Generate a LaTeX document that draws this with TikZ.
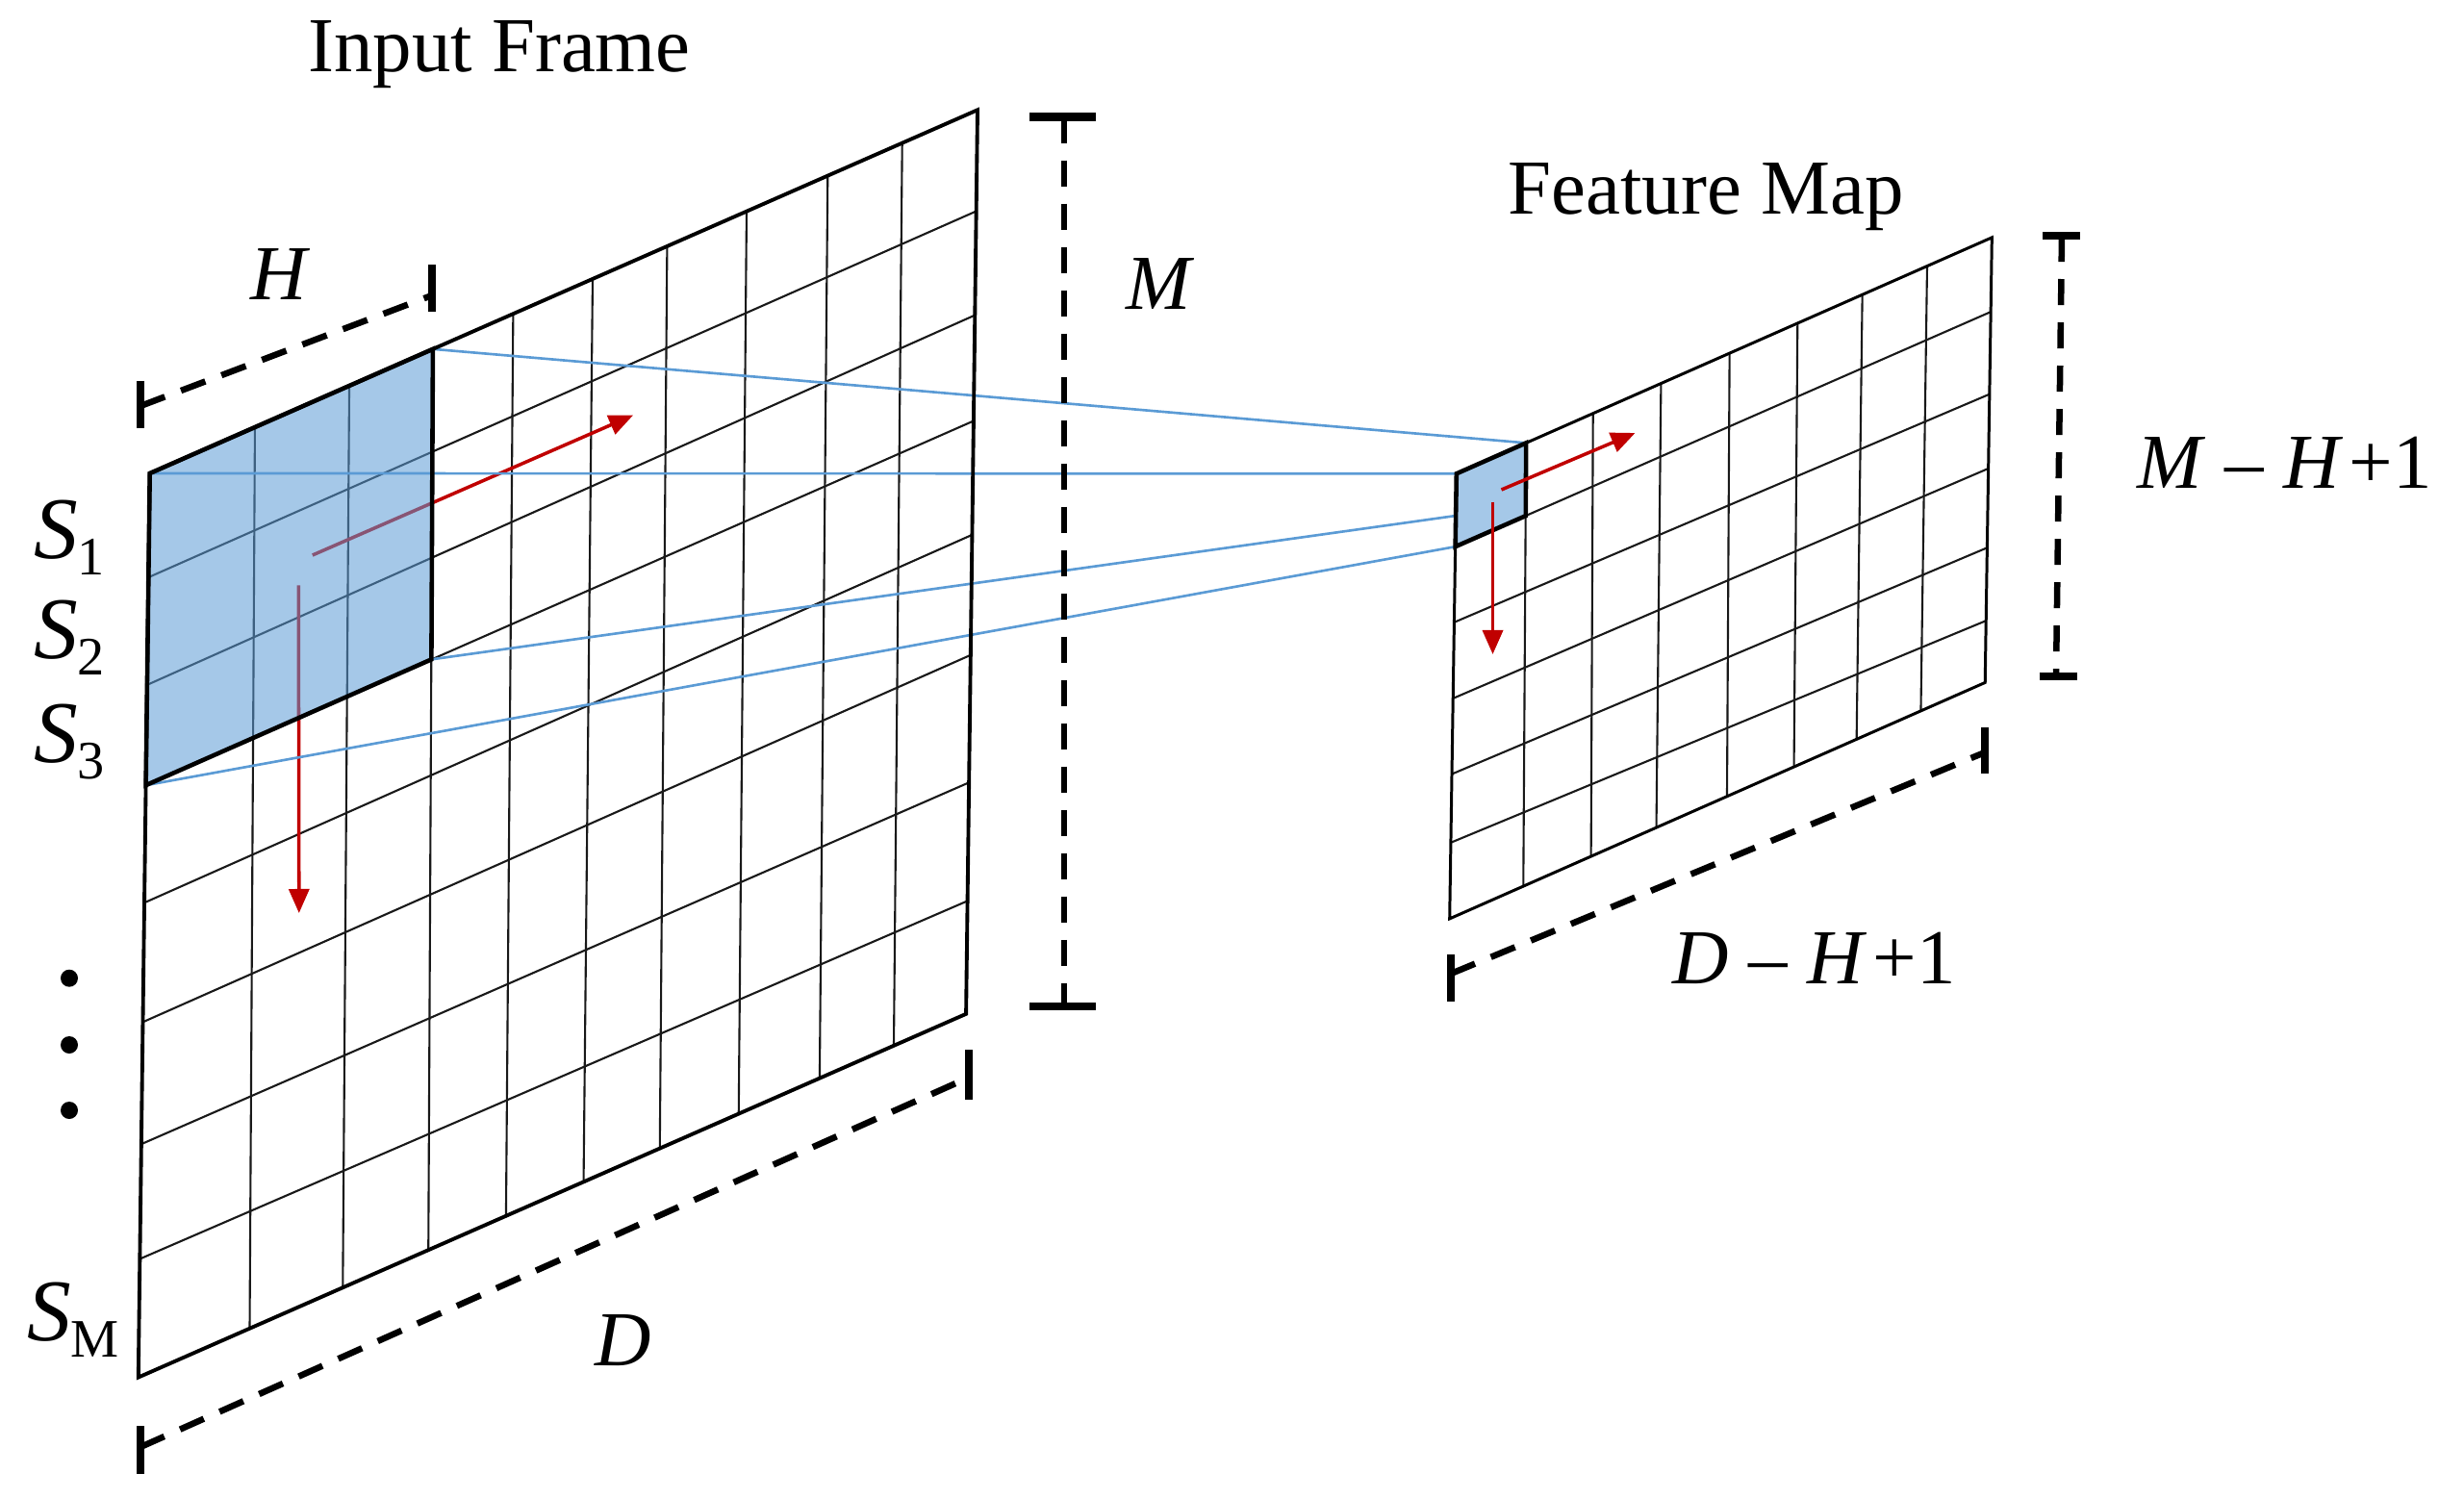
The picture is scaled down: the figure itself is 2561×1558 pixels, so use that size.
\documentclass[tikz,border=0pt]{standalone}
\usepackage{fontspec}
\setmainfont{Liberation Serif}
\usetikzlibrary{arrows.meta,calc}
\definecolor{winblue}{RGB}{91,155,213}
\definecolor{darkred}{RGB}{192,0,0}
\newcommand\Slab[1]{{\fontsize{26}{26}\selectfont\itshape S}\kern-0.03em\raisebox{-0.17cm}{\fontsize{16}{16}\selectfont #1}}
\begin{document}
\begin{tikzpicture}[x=0.01cm, y=-0.01cm,
  gridline/.style={line width=0.6pt, black!90},
  outeredge/.style={line width=1.1pt, black, line join=miter},
  fmedge/.style={line width=0.85pt, black, line join=miter},
  patchfill/.style={fill=winblue, fill opacity=0.55},
  patchedge/.style={line width=1.3pt, black, line join=miter},
  link/.style={line width=0.75pt, winblue},
  shiftarrow/.style={line width=1pt, darkred, -{Triangle[length=0.25cm,width=0.21cm]}},
  dimdash/.style={line width=1.85pt, dash pattern=on 7.7pt off 5.1pt},
  dimtick/.style={line width=2.3pt},
  lab/.style={inner sep=0pt, font=\fontsize{23}{27}\selectfont},
  mathlab/.style={inner sep=0pt, font=\fontsize{23}{27}\selectfont\itshape},
  dot/.style={circle, fill=black, inner sep=0pt, minimum size=0.18cm}]
\useasboundingbox (0,0) rectangle (2561,1558);

% ---------------- Input frame grid ----------------
\begin{scope}[shift={(155.7,492)}, x={(8.598cm,3.775cm)}, y={(-0.119cm,-9.39cm)}]
  \foreach \ct/\cb in {0.127/0.1345, 0.241/0.247, 0.342/0.3504, 0.439/0.4442, 0.535/0.5379, 0.625/0.630, 0.721/0.7253, 0.819/0.8231, 0.909/0.9127}
    \draw[gridline] (\ct,0) -- (\cb,1);
  \foreach \rl/\rr in {0.115/0.112, 0.234/0.227, 0.345/0.344, 0.475/0.470, 0.607/0.603, 0.742/0.744, 0.869/0.875}
    \draw[gridline] (0,\rl) -- (1,\rr);
  \coordinate (inTL) at (0,0);
  \coordinate (inTR) at (1,0);
  \coordinate (inBR) at (1,1);
  \coordinate (inBL) at (0,1);
  \coordinate (bTL) at (0,0);
  \coordinate (bTR) at (0.342,0);
  \coordinate (bBR) at (0.345,0.3445);
  \coordinate (bBL) at (0,0.345);
\end{scope}

% sliding arrows (input)
\coordinate (iaR0) at (324.8,577);
\coordinate (iaR1) at (658,431.6);
\coordinate (iaD0) at (310.3,608.3);
\coordinate (iaD1) at (310.8,949);
\draw[shiftarrow] (iaR0) -- (iaR1);
\draw[shiftarrow] (iaD0) -- (iaD1);

% input patch
\fill[patchfill] (bTL) -- (bTR) -- (bBR) -- (bBL) -- cycle;

% ---------------- Feature map grid ----------------
\begin{scope}[shift={(1513.8,492.3)}, x={(5.562cm,2.453cm)}, y={(-0.071cm,-4.623cm)}]
  \foreach \ct/\cb in {0.130/0.1376, 0.255/0.264, 0.382/0.386, 0.51/0.518, 0.637/0.643, 0.758/0.76, 0.879/0.88}
    \draw[gridline] (\ct,0) -- (\cb,1);
  \foreach \rl/\rr in {0.164/0.167, 0.334/0.352, 0.505/0.519, 0.675/0.697, 0.829/0.861}
    \draw[gridline] (0,\rl) -- (1,\rr);
  \coordinate (fmTL) at (0,0);
  \coordinate (fmTR) at (1,0);
  \coordinate (fmBR) at (1,1);
  \coordinate (fmBL) at (0,1);
  \coordinate (fTL) at (0,0);
  \coordinate (fTR) at (0.13,0);
  \coordinate (fBR) at (0.1315,0.1645);
  \coordinate (fBL) at (0,0.164);
  \coordinate (fMid) at (0,0.0945);
\end{scope}
\draw[fmedge] (fmTL) -- (fmTR) -- (fmBR) -- (fmBL) -- cycle;
\fill[patchfill] (fTL) -- (fTR) -- (fBR) -- (fBL) -- cycle;

% connectors
\draw[link] (bTR) -- (fTR);
\draw[link] (bTL) -- (fTL);
\draw[link] (bBR) -- (fMid);
\draw[link] (bBL) -- (fBL);

% edges on top
\draw[outeredge] (inTL) -- (inTR) -- (inBR) -- (inBL) -- cycle;
\draw[patchedge] (bBL) -- (bTL) -- (bTR) -- (bBR) -- cycle;
\draw[patchedge] (fTL) -- (fTR) -- (fBR) -- (fBL) -- cycle;

% sliding arrows (feature map)
\coordinate (faR0) at (1560.5,509);
\coordinate (faR1) at (1699.5,450);
\coordinate (faD0) at (1551.5,521.7);
\coordinate (faD1) at (1551.5,680);
\draw[shiftarrow] (faR0) -- (faR1);
\draw[shiftarrow] (faD0) -- (faD1);

% ---------------- dimension lines ----------------
% H
\coordinate (hA) at (146,422);
\coordinate (hB) at (449,307);
\draw[dimdash] (hA) -- (hB);
\draw[dimtick] (146,396) -- (146,445);
\draw[dimtick] (449,275.5) -- (449,324);
% D
\coordinate (dA) at (146,1504);
\coordinate (dB) at (1006.7,1120);
\draw[dimdash] (dA) -- (dB);
\draw[dimtick] (146,1482) -- (146,1532);
\draw[dimtick] (1006.7,1091) -- (1006.7,1143);
% M
\coordinate (mA) at (1105.8,121.5);
\coordinate (mB) at (1105.8,1045.6);
\draw[dimdash] (mA) -- (mB);
\draw[dimtick] (1070,121.5) -- (1139,121.5);
\draw[dimtick] (1070,1045.6) -- (1139,1045.6);
% M-H+1
\coordinate (mhA) at (2143,245);
\coordinate (mhB) at (2137,702.6);
\draw[dimdash] (mhA) -- (mhB);
\draw[dimtick] (2123,245) -- (2162,245);
\draw[dimtick] (2119.5,702.6) -- (2158.5,702.6);
% D-H+1
\coordinate (dhA) at (1508,1012);
\coordinate (dhB) at (2063,782);
\draw[dimdash] (dhA) -- (dhB);
\draw[dimtick] (1508,992) -- (1508,1040.7);
\draw[dimtick] (2063,756) -- (2063,804);

% ---------------- labels ----------------
\node[lab, anchor=base] (inlabel) at (519,74.6) {Input Frame};
\node[lab, anchor=base] (fmlabel) at (1773,222.7) {Feature Map};
\node[mathlab] (Hlab) at (289.5,285.5) {H};
\node[mathlab] (Mlab) at (1204.6,295) {M};
\node[mathlab] (Dlab) at (648,1393.5) {D};
\node[lab, anchor=base] (mhlab) at (2374.6,507.5) {\textit{M} \textendash{} \textit{H}\kern0.08em+1};
\node[lab, anchor=base] (dhlab) at (1885.7,1022.5) {\textit{D} \textendash{} \textit{H}\kern0.08em+1};

\node[inner sep=0pt, anchor=base east] (s1) at (109,580) {\Slab{1}};
\node[inner sep=0pt, anchor=base east] (s2) at (109,684) {\Slab{2}};
\node[inner sep=0pt, anchor=base east] (s3) at (109,792) {\Slab{3}};
\node[inner sep=0pt, anchor=base east] (sm) at (124,1393) {\Slab{M}};

\node[dot] (dot1) at (72,1016.7) {};
\node[dot] (dot2) at (72,1086) {};
\node[dot] (dot3) at (72,1154) {};
\end{tikzpicture}
\end{document}
